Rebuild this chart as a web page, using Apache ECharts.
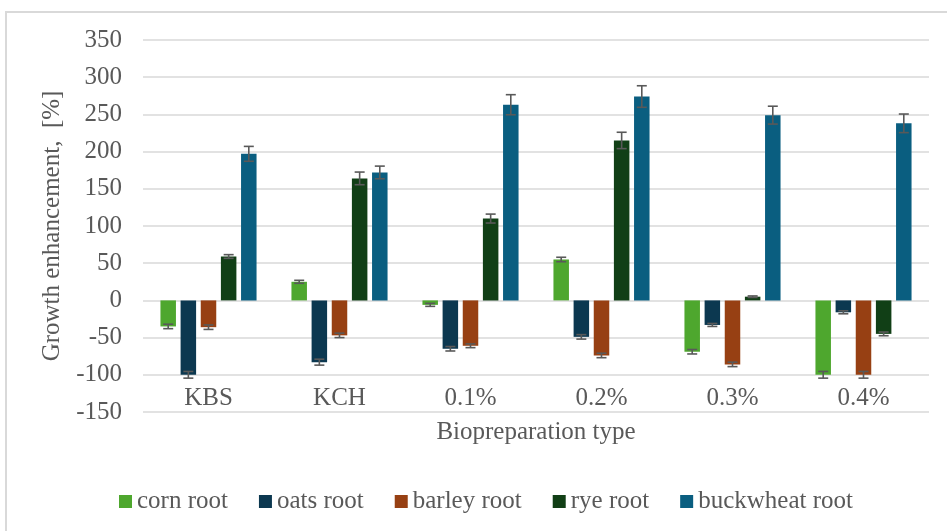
<!DOCTYPE html>
<html>
<head>
<meta charset="utf-8">
<script src="https://cdn.jsdelivr.net/npm/echarts@6/dist/echarts.min.js"></script>
<style>
html,body{margin:0;padding:0;background:#fff;}
#chart{width:947px;height:531px;}
</style>
</head>
<body>
<div id="chart"></div>
<script>
var categories = ['KBS', 'KCH', '0.1%', '0.2%', '0.3%', '0.4%'];
var seriesNames = ['corn root', 'oats root', 'barley root', 'rye root', 'buckwheat root'];
var cornRoot = [-35, 25, -6, 55, -69, -100];
var oatsRoot = [-100, -83, -65, -49, -33, -16];
var barleyRoot = [-36, -47, -61, -74, -86, -100];
var ryeRoot = [59, 164, 110, 215, 5, -45];
var buckwheatRoot = [197, 172, 263, 274, 249, 238];
var cornErr = [3, 2, 2, 3, 3, 4.5];
var oatsErr = [4.5, 4, 3, 3, 2, 2];
var barleyErr = [3, 3, 2.5, 3, 3, 4.5];
var ryeErr = [2.5, 8.5, 6, 11, 1, 2.5];
var buckwheatErr = [10, 8.5, 13.5, 14.5, 12, 12.5];
var yTicks = {min: -150, max: 350, interval: 50};

var values = [cornRoot, oatsRoot, barleyRoot, ryeRoot, buckwheatRoot];
var errors = [cornErr, oatsErr, barleyErr, ryeErr, buckwheatErr];
var colors = ['#4ea72e', '#0c3850', '#974013', '#113f16', '#0a5e80'];

var FONT = '"Liberation Serif", "Times New Roman", serif';
var TXT = '#595959';
var BAR_W = 15.5;
var BAR_GAP = 0.3;

var series = [];
values.forEach(function (vals, i) {
  series.push({
    name: seriesNames[i],
    type: 'bar',
    data: vals,
    barWidth: BAR_W,
    barGap: (BAR_GAP * 100) + '%',
    itemStyle: {color: colors[i]},
    animation: false
  });
});

var errData = [];
values.forEach(function (vals, s) {
  vals.forEach(function (v, c) {
    errData.push([c, s, v, errors[s][c]]);
  });
});

series.push({
  type: 'custom',
  name: 'errors',
  data: errData,
  encode: {x: 0, y: 2},
  z: 10,
  animation: false,
  silent: true,
  renderItem: function (params, api) {
    var c = api.value(0), s = api.value(1), v = api.value(2), e = api.value(3);
    var top = api.coord([c, v + e]);
    var bot = api.coord([c, v - e]);
    var off = (s - 2) * BAR_W * (1 + BAR_GAP);
    var x = top[0] + off;
    var hw = 5;
    var st = {stroke: '#595959', lineWidth: 1.6};
    return {
      type: 'group',
      children: [
        {type: 'line', shape: {x1: x, y1: top[1], x2: x, y2: bot[1]}, style: st},
        {type: 'line', shape: {x1: x - hw, y1: top[1], x2: x + hw, y2: top[1]}, style: st},
        {type: 'line', shape: {x1: x - hw, y1: bot[1], x2: x + hw, y2: bot[1]}, style: st}
      ]
    };
  }
});

var chart = echarts.init(document.getElementById('chart'));
chart.setOption({
  animation: false,
  backgroundColor: '#fff',
  graphic: [{
    type: 'rect',
    shape: {x: 6, y: 12, width: 1200, height: 1000},
    style: {fill: 'none', stroke: '#d9d9d9', lineWidth: 2},
    silent: true,
    z: -10
  }],
  grid: {left: 143, right: 18, top: 40, bottom: 119},
  legend: {
    data: seriesNames,
    top: 484,
    left: 114,
    icon: 'rect',
    itemWidth: 13,
    itemHeight: 13,
    itemGap: 31,
    textStyle: {fontFamily: FONT, fontSize: 25, color: TXT}
  },
  xAxis: {
    type: 'category',
    data: categories,
    position: 'bottom',
    offset: -34,
    axisLine: {show: false},
    axisTick: {show: false},
    axisLabel: {fontFamily: FONT, fontSize: 25, color: TXT, margin: 8},
    name: 'Biopreparation type',
    nameLocation: 'middle',
    nameGap: 42,
    nameTextStyle: {fontFamily: FONT, fontSize: 25, color: TXT}
  },
  yAxis: {
    type: 'value',
    min: yTicks.min,
    max: yTicks.max,
    interval: yTicks.interval,
    axisLine: {show: false},
    axisTick: {show: false},
    axisLabel: {fontFamily: FONT, fontSize: 25, color: TXT, margin: 21},
    splitLine: {lineStyle: {color: '#d9d9d9', width: 1.6}},
    name: 'Growth enhancement,  [%]',
    nameLocation: 'middle',
    nameGap: 72,
    nameTextStyle: {fontFamily: FONT, fontSize: 25, color: TXT}
  },
  series: series
});
</script>
</body>
</html>
